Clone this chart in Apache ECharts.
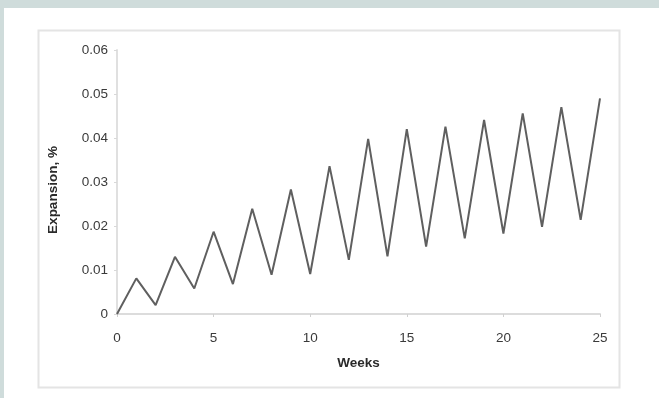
<!DOCTYPE html>
<html>
<head>
<meta charset="utf-8">
<script src="https://cdn.jsdelivr.net/npm/echarts@6/dist/echarts.min.js"></script>
<style>html,body{margin:0;padding:0;background:#cfdcdb;}#c{width:659px;height:398px;}</style>
</head>
<body>
<div id="c"></div>
<script>
const weeks = [0,1,2,3,4,5,6,7,8,9,10,11,12,13,14,15,16,17,18,19,20,21,22,23,24,25];
const expansion = [0,0.0081,0.002,0.013,0.0058,0.0187,0.0068,0.0239,0.0089,0.0283,0.0091,0.0336,0.0123,0.0398,0.0131,0.042,0.0153,0.0426,0.0172,0.0441,0.0183,0.0456,0.0198,0.047,0.0214,0.049];
const yTicks = [0,0.01,0.02,0.03,0.04,0.05,0.06];
const xTitle = 'Weeks';
const yTitle = 'Expansion, %';

const chart = echarts.init(document.getElementById('c'));
chart.setOption({
  backgroundColor: '#cfdcdb',
  animation: false,
  graphic: [
    {type:'rect', left:4, top:8, shape:{width:655, height:390}, style:{fill:'#ffffff'}, z:-10},
    {type:'rect', left:36, top:28, shape:{width:581, height:357}, style:{fill:'none', stroke:'#e4e4e4', lineWidth:2}, z:-5}
  ],
  grid: {left:117, right:59, top:50, bottom:84},
  xAxis: {
    type:'value', min:0, max:25, interval:5,
    name: xTitle, nameLocation:'middle', nameGap:42,
    nameTextStyle:{fontFamily:'Liberation Sans, Arial', fontWeight:'bold', fontSize:13.5, color:'#2a2a2a'},
    axisLine:{show:true, lineStyle:{color:'#dcdcdc', width:2}},
    axisTick:{show:true, length:3, inside:false, lineStyle:{color:'#d0d0d0'}},
    axisLabel:{margin:17, fontFamily:'Liberation Sans, Arial', fontSize:13.5, color:'#3a3a3a'},
    splitLine:{show:false}
  },
  yAxis: {
    type:'value', min:0, max:0.06, interval:0.01,
    name: yTitle, nameLocation:'middle', nameGap:57,
    nameTextStyle:{fontFamily:'Liberation Sans, Arial', fontWeight:'bold', fontSize:13.5, color:'#2a2a2a', padding:[0,0,0,-16]},
    axisLine:{show:true, lineStyle:{color:'#e0e0e0', width:2}},
    axisTick:{show:true, length:3, lineStyle:{color:'#d8d8d8'}},
    axisLabel:{margin:9, fontFamily:'Liberation Sans, Arial', fontSize:13.5, color:'#3a3a3a',
      formatter: v => { const t = yTicks.find(x => Math.abs(x - v) < 1e-9); return t === 0 ? '0' : String(+(t ?? v).toFixed(2)); }},
    splitLine:{show:false}
  },
  series: [{
    type:'line',
    data: weeks.map((w,i)=>[w, expansion[i]]),
    showSymbol:false, symbol:'none',
    lineStyle:{color:'#5f5f5f', width:2},
    clip:false
  }]
});
</script>
</body>
</html>
